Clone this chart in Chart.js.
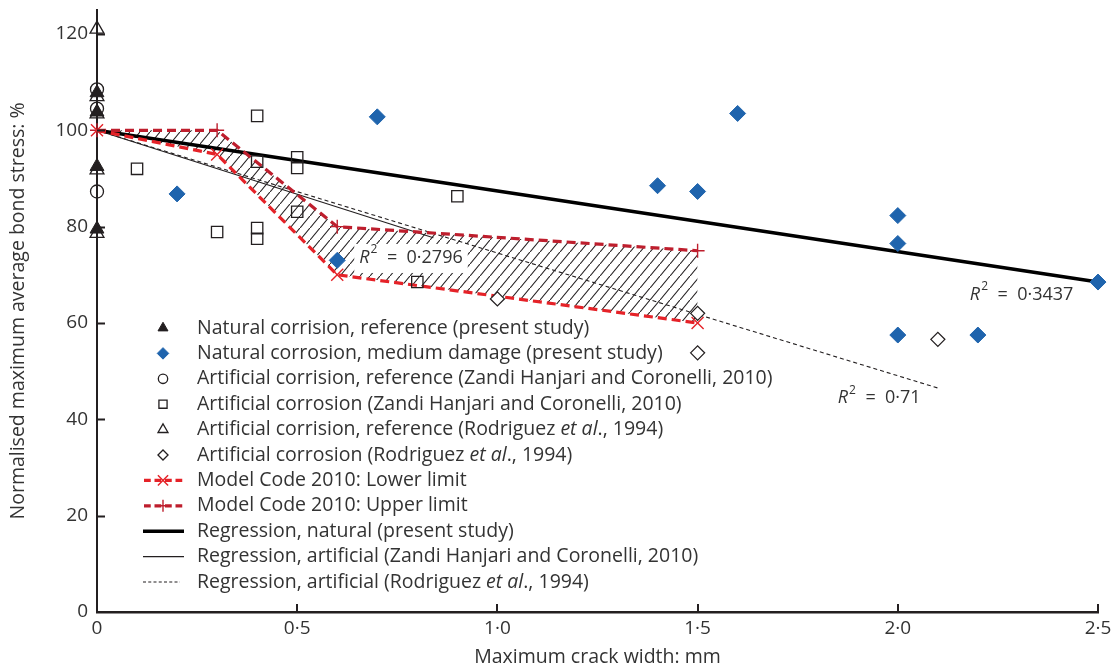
<!DOCTYPE html>
<html>
<head>
<meta charset="utf-8">
<script src="https://cdn.jsdelivr.net/npm/chart.js@4.4.0/dist/chart.umd.min.js"></script>
<style>
  html, body { margin: 0; padding: 0; background: #fff; }
  #wrap { width: 1115px; height: 669px; }
</style>
</head>
<body>
<div id="wrap"><canvas id="bondChart"></canvas></div>
<script>
// axis ticks
const xTicks = [0, 0.5, 1, 1.5, 2, 2.5];
const yTicks = [0, 20, 40, 60, 80, 100, 120];

// natural corrosion, reference (present study)
const natRefX = [0, 0, 0, 0];
const natRefY = [107.8, 103.8, 92.5, 79.5];
// natural corrosion, medium damage (present study)
const natMedX = [0.2, 0.6, 0.7, 1.4, 1.5, 1.6, 2.0, 2.0, 2.0, 2.2, 2.5];
const natMedY = [86.8, 73, 102.8, 88.5, 87.3, 103.5, 82.3, 76.5, 57.5, 57.5, 68.5];
// Zandi Hanjari and Coronelli, 2010
const zandiRefX = [0, 0, 0];
const zandiRefY = [108.5, 104.5, 87.3];
const zandiX = [0.1, 0.3, 0.4, 0.4, 0.4, 0.4, 0.5, 0.5, 0.5, 0.8, 0.9];
const zandiY = [92, 78.9, 103, 93.5, 79.7, 77.5, 94.4, 92.2, 83.1, 68.5, 86.3];
// Rodriguez et al., 1994
const rodRefX = [0, 0, 0, 0, 0];
const rodRefY = [121, 107, 103.4, 91.8, 78.6];
const rodX = [1.0, 1.5, 1.5, 2.1];
const rodY = [65, 62, 53.8, 56.6];
// Model Code 2010 limits
const mcLowX = [0, 0.3, 0.6, 1.5];
const mcLowY = [100, 95, 70, 60];
const mcUpX = [0, 0.3, 0.6, 1.5];
const mcUpY = [100, 100, 80, 75];
// regression lines (end points)
const regNatX = [0, 2.5];
const regNatY = [100, 68.5];
const regZandiX = [0, 0.84];
const regZandiY = [100, 77.7];
const regRodX = [0, 2.1];
const regRodY = [100, 46.5];

// R² labels: [x, y, text, white box]
const r2Labels = [
  [0.655, 73.5, '0·2796', true],
  [2.18, 65.8, '0·3437', false],
  [1.85, 44.4, '0·71', false]
];

const FONT = '"Open Sans", "Noto Sans", sans-serif';
const TEXT = '#333333';
const AXIS = '#231f20';

function pts(xs, ys) {
  return xs.map((x, i) => ({ x: x, y: ys[i] }));
}

function hatchPattern() {
  const c = document.createElement('canvas');
  c.width = 10;
  c.height = 12;
  const g = c.getContext('2d');
  g.strokeStyle = AXIS;
  g.lineWidth = 1.1;
  g.beginPath();
  g.moveTo(-1, 13.2);
  g.lineTo(11, -1.2);
  g.stroke();
  return g.createPattern(c, 'repeat');
}

const datasets = [
  {
    label: 'Natural corrosion, medium damage (present study)',
    data: pts(natMedX, natMedY), showLine: false,
    pointStyle: 'rectRot', pointRadius: 8,
    pointBackgroundColor: '#1f64ad', pointBorderColor: '#1f64ad', pointBorderWidth: 1
  },
  {
    label: 'Natural corrision, reference (present study)',
    data: pts(natRefX, natRefY), showLine: false,
    pointStyle: 'triangle', pointRadius: 8,
    pointBackgroundColor: AXIS, pointBorderColor: AXIS, pointBorderWidth: 1
  },
  {
    label: 'Artificial corrision, reference (Zandi Hanjari and Coronelli, 2010)',
    data: pts(zandiRefX, zandiRefY), showLine: false,
    pointStyle: 'circle', pointRadius: 6.5,
    pointBackgroundColor: 'rgba(0,0,0,0)', pointBorderColor: AXIS, pointBorderWidth: 1.3
  },
  {
    label: 'Artificial corrosion (Zandi Hanjari and Coronelli, 2010)',
    data: pts(zandiX, zandiY), showLine: false,
    pointStyle: 'rect', pointRadius: 8,
    pointBackgroundColor: 'rgba(0,0,0,0)', pointBorderColor: AXIS, pointBorderWidth: 1.3
  },
  {
    label: 'Artificial corrision, reference (Rodriguez et al., 1994)',
    data: pts(rodRefX, rodRefY), showLine: false,
    pointStyle: 'triangle', pointRadius: 8,
    pointBackgroundColor: 'rgba(0,0,0,0)', pointBorderColor: AXIS, pointBorderWidth: 1.3
  },
  {
    label: 'Artificial corrosion (Rodriguez et al., 1994)',
    data: pts(rodX, rodY), showLine: false,
    pointStyle: 'rectRot', pointRadius: 7,
    pointBackgroundColor: '#fff', pointBorderColor: AXIS, pointBorderWidth: 1.3
  },
  {
    label: 'Model Code 2010: Lower limit',
    data: pts(mcLowX, mcLowY),
    borderColor: '#e52228', borderWidth: 3.2, borderDash: [9, 5],
    pointStyle: 'crossRot', pointRadius: 8.5,
    pointBorderColor: '#e52228', pointBorderWidth: 1.4, fill: false
  },
  {
    label: 'Model Code 2010: Upper limit',
    data: pts(mcUpX, mcUpY),
    borderColor: '#be1e2d', borderWidth: 3.2, borderDash: [9, 5],
    backgroundColor: hatchPattern(),
    pointStyle: 'cross', pointRadius: 7,
    pointBorderColor: '#be1e2d', pointBorderWidth: 1.4, fill: { target: 6 }
  },
  {
    label: 'Regression, natural (present study)',
    data: pts(regNatX, regNatY),
    borderColor: '#000', borderWidth: 3.5, pointRadius: 0, fill: false
  },
  {
    label: 'Regression, artificial (Zandi Hanjari and Coronelli, 2010)',
    data: pts(regZandiX, regZandiY),
    borderColor: AXIS, borderWidth: 1.1, pointRadius: 0, fill: false
  },
  {
    label: 'Regression, artificial (Rodriguez et al., 1994)',
    data: pts(regRodX, regRodY),
    borderColor: AXIS, borderWidth: 1.1, borderDash: [4, 3], pointRadius: 0, fill: false
  }
];

const legendOrder = [1, 0, 2, 3, 4, 5, 6, 7, 8, 9, 10];

function fillLabel(ctx, text, x, y, size) {
  // "et al" is set in italic
  const parts = text.split('et al');
  let cx = x;
  parts.forEach((p, i) => {
    ctx.font = size + 'px ' + FONT;
    ctx.fillText(p, cx, y);
    cx += ctx.measureText(p).width;
    if (i < parts.length - 1) {
      ctx.font = 'italic ' + size + 'px ' + FONT;
      ctx.fillText('et al', cx, y);
      cx += ctx.measureText('et al').width;
    }
  });
}

function r2Width(ctx, value) {
  ctx.font = 'italic 18px ' + FONT;
  let w = ctx.measureText('R').width + 8;
  ctx.font = '18px ' + FONT;
  w += ctx.measureText('  =  ' + value).width;
  return w;
}

function drawR2(ctx, x, y, value) {
  ctx.fillStyle = TEXT;
  ctx.textBaseline = 'middle';
  ctx.textAlign = 'left';
  ctx.font = 'italic 18px ' + FONT;
  ctx.fillText('R', x, y);
  const w = ctx.measureText('R').width;
  ctx.font = '12px ' + FONT;
  ctx.fillText('2', x + w + 1, y - 8);
  ctx.font = '18px ' + FONT;
  ctx.fillText('  =  ' + value, x + w + 8, y);
}

const extras = {
  id: 'extras',
  beforeDatasetsDraw(chart) {
    const ctx = chart.ctx;
    const xs = chart.scales.x, ys = chart.scales.y;
    ctx.save();
    r2Labels.forEach(l => {
      if (!l[3]) return;
      const px = xs.getPixelForValue(l[0]);
      const py = ys.getPixelForValue(l[1]);
      const w = r2Width(ctx, l[2]);
      ctx.fillStyle = '#fff';
      ctx.fillRect(px - 5, py - 14, w + 10, 29);
    });
    ctx.restore();
  },
  afterDraw(chart) {
    const ctx = chart.ctx;
    const xs = chart.scales.x, ys = chart.scales.y;
    const area = chart.chartArea;
    ctx.save();

    // inward tick marks
    ctx.strokeStyle = AXIS;
    ctx.lineWidth = 2;
    ctx.beginPath();
    xTicks.forEach(v => {
      if (v === 0) return;
      const px = Math.round(xs.getPixelForValue(v));
      ctx.moveTo(px, area.bottom);
      ctx.lineTo(px, area.bottom - 8);
    });
    yTicks.forEach(v => {
      if (v === 0) return;
      const py = Math.round(ys.getPixelForValue(v)) + 0.5;
      ctx.moveTo(area.left, py);
      ctx.lineTo(area.left + 8, py);
    });
    ctx.stroke();

    // R² labels
    r2Labels.forEach(l => {
      drawR2(ctx, xs.getPixelForValue(l[0]), ys.getPixelForValue(l[1]), l[2]);
    });

    // legend
    const top = 328, step = 25.4, symX = 163, textX = 197;
    legendOrder.forEach((idx, row) => {
      const ds = chart.data.datasets[idx];
      const y = top + row * step;
      if (ds.showLine === false) {
        ctx.fillStyle = ds.pointBackgroundColor;
        ctx.strokeStyle = ds.pointBorderColor;
        ctx.lineWidth = ds.pointBorderWidth;
        ctx.setLineDash([]);
        Chart.helpers.drawPoint(ctx, {
          pointStyle: ds.pointStyle, radius: ds.pointRadius * 0.72, rotation: 0, borderWidth: ds.pointBorderWidth
        }, symX, y);
      } else {
        ctx.strokeStyle = ds.borderColor;
        ctx.lineWidth = ds.borderWidth;
        ctx.setLineDash(ds.borderDash ? ds.borderDash.map(d => d * 0.75) : []);
        ctx.beginPath();
        const x1 = ds.pointRadius ? 144 : 143;
        const x2 = ds.borderDash && !ds.pointRadius ? 180 : 184;
        ctx.moveTo(x1, y);
        ctx.lineTo(x2, y);
        ctx.stroke();
        ctx.setLineDash([]);
        if (ds.pointRadius) {
          ctx.strokeStyle = ds.pointBorderColor;
          ctx.lineWidth = ds.pointBorderWidth;
          Chart.helpers.drawPoint(ctx, {
            pointStyle: ds.pointStyle, radius: ds.pointRadius * 0.85, rotation: 0, borderWidth: ds.pointBorderWidth
          }, symX, y);
        }
      }
      ctx.fillStyle = TEXT;
      ctx.textBaseline = 'middle';
      ctx.textAlign = 'left';
      fillLabel(ctx, ds.label, textX, y, 19.5);
    });
    ctx.restore();
  }
};

function fmtTick(v) {
  return v === 0 ? '0' : v.toFixed(1).replace('.', '·');
}

new Chart(document.getElementById('bondChart'), {
  type: 'line',
  data: { datasets: datasets },
  options: {
    responsive: true,
    maintainAspectRatio: false,
    animation: false,
    devicePixelRatio: 1,
    layout: { padding: { left: 0, right: 17, top: 9, bottom: 0 } },
    elements: { line: { tension: 0 } },
    datasets: { line: { clip: false } },
    plugins: {
      legend: { display: false },
      tooltip: { enabled: false },
      filler: { drawTime: 'beforeDatasetsDraw' }
    },
    scales: {
      x: {
        type: 'linear',
        min: 0,
        max: 2.5,
        afterBuildTicks: s => { s.ticks = xTicks.map(v => ({ value: v })); },
        afterFit: s => { s.height = 57; s.paddingLeft = 0; s.paddingRight = 0; },
        grid: { display: false, drawTicks: false },
        border: { display: true, color: AXIS, width: 2.5 },
        ticks: {
          callback: v => fmtTick(v),
          font: { family: FONT, size: 19 },
          color: TEXT,
          padding: 5,
          maxRotation: 0,
          autoSkip: false
        },
        title: {
          display: true,
          text: 'Maximum crack width: mm',
          font: { family: FONT, size: 19.5 },
          color: TEXT,
          padding: { top: 0, bottom: 0 }
        }
      },
      y: {
        type: 'linear',
        min: 0,
        max: 125,
        afterBuildTicks: s => { s.ticks = yTicks.map(v => ({ value: v })); },
        afterFit: s => { s.width = 97; s.paddingTop = 0; s.paddingBottom = 0; },
        grid: { display: false, drawTicks: false },
        border: { display: true, color: AXIS, width: 2 },
        ticks: {
          font: { family: FONT, size: 19 },
          color: TEXT,
          padding: 9,
          autoSkip: false
        },
        title: {
          display: true,
          text: 'Normalised maximum average bond stress: %',
          font: { family: FONT, size: 19.5 },
          color: TEXT,
          padding: { top: 7, bottom: 4 }
        }
      }
    }
  },
  plugins: [extras]
});
</script>
</body>
</html>
